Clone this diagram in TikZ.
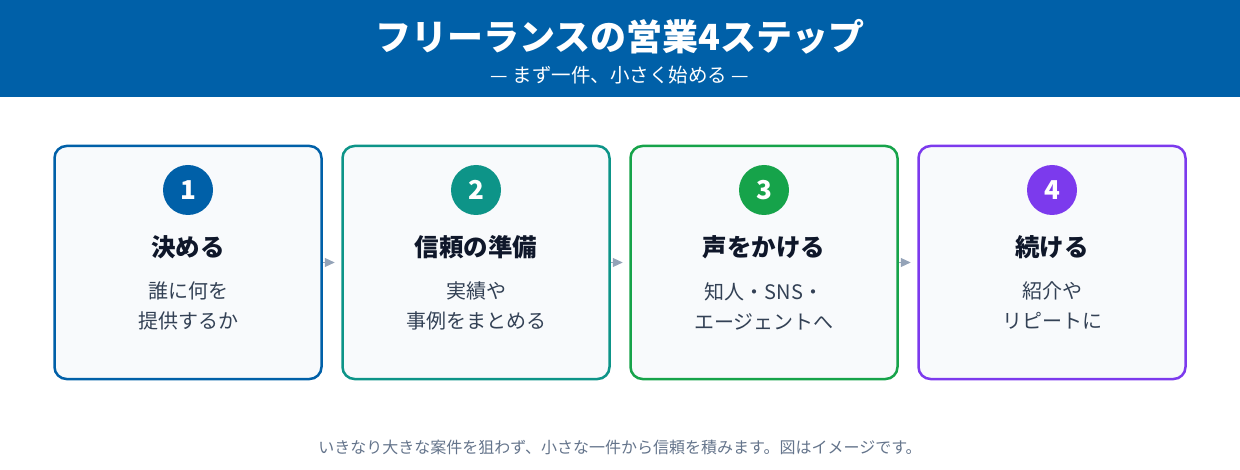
\documentclass[tikz,border=0pt]{standalone}
\usepackage{fontspec}
\setmainfont{Noto Sans CJK JP}
\usetikzlibrary{arrows.meta,positioning}
\definecolor{hdrblue}{HTML}{0060A8}
\definecolor{tealc}{HTML}{0D9488}
\definecolor{greenc}{HTML}{16A34A}
\definecolor{purplec}{HTML}{7C3AED}
\definecolor{boxbg}{HTML}{F8FAFC}
\definecolor{ttltext}{HTML}{0F172A}
\definecolor{desctext}{HTML}{334155}
\definecolor{foottext}{HTML}{64748B}
\definecolor{arrgray}{HTML}{94A3B8}
\tikzstyle{stepbox} = [rectangle, draw, line width=2.5pt, fill=boxbg,
    rounded corners=12pt, minimum width=267pt, minimum height=233pt]
\tikzstyle{num} = [circle, minimum size=50pt, inner sep=0pt, text=white,
    font=\fontsize{26}{26}\selectfont\bfseries]
\tikzstyle{ttl} = [inner sep=0pt, text=ttltext, font=\fontsize{24.5}{24.5}\selectfont\bfseries]
\tikzstyle{desc} = [inner sep=0pt, align=center, text=desctext, font=\fontsize{20}{30}\selectfont]
\tikzstyle{arr} = [-{Triangle[length=10pt,width=9pt]}, arrgray, line width=1pt,
    shorten >=6.5pt]

\begin{document}
\begin{tikzpicture}[x=1pt,y=-1pt]
  \useasboundingbox (0,0) rectangle (1240,470);
  % header
  \fill[hdrblue] (0,0) rectangle (1240,97);
  \node[text=white, font=\fontsize{36}{36}\selectfont\bfseries] (title) at (620,37) {フリーランスの営業4ステップ};
  \node[text=white, font=\fontsize{19.5}{19.5}\selectfont] (sub) at (620,75) {— まず一件、小さく始める —};

  % steps
  \node[stepbox, draw=hdrblue] (s1) at (188,262.5) {};
  \node[stepbox, draw=tealc]   (s2) at (476,262.5) {};
  \node[stepbox, draw=greenc]  (s3) at (764,262.5) {};
  \node[stepbox, draw=purplec] (s4) at (1052,262.5) {};

  \node[num, fill=hdrblue] (n1) at (188,190) {1};
  \node[num, fill=tealc]   (n2) at (476,190) {2};
  \node[num, fill=greenc]  (n3) at (764,190) {3};
  \node[num, fill=purplec] (n4) at (1052,190) {4};

  \node[ttl] (t1) at (188,247) {決める};
  \node[ttl] (t2) at (476,247) {信頼の準備};
  \node[ttl] (t3) at (764,247) {声をかける};
  \node[ttl] (t4) at (1052,247) {続ける};

  \node[desc] (d1) at (188,306) {誰に何を\\提供するか};
  \node[desc] (d2) at (476,306) {実績や\\事例をまとめる};
  \node[desc] (d3) at (764,306) {知人・SNS・\\エージェントへ};
  \node[desc] (d4) at (1052,306) {紹介や\\リピートに};

  \draw[arr] (s1) -- (s2);
  \draw[arr] (s2) -- (s3);
  \draw[arr] (s3) -- (s4);

  % footer note
  \node[text=foottext, font=\fontsize{16}{16}\selectfont] (note) at (620,447) {いきなり大きな案件を狙わず、小さな一件から信頼を積みます。図はイメージです。};
\end{tikzpicture}
\end{document}
